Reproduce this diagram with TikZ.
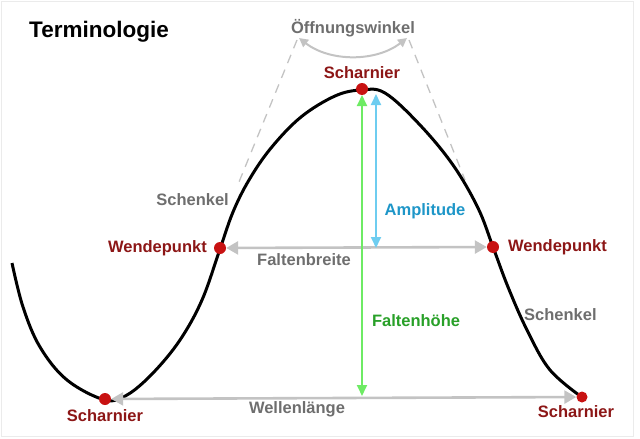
\documentclass[tikz,border=0pt]{standalone}
\usepackage{fontspec}
\setmainfont{Liberation Sans}
\usetikzlibrary{arrows.meta}
\definecolor{hingered}{RGB}{140,22,22}
\definecolor{dotred}{RGB}{200,18,18}
\definecolor{labgray}{RGB}{110,110,110}
\definecolor{arrgray}{RGB}{195,195,195}
\definecolor{lgreen}{RGB}{110,235,100}
\definecolor{dgreen}{RGB}{40,160,40}
\definecolor{lblue}{RGB}{110,205,240}
\definecolor{dblue}{RGB}{30,150,200}
\tikzset{
  curve/.style={line width=3pt, black},
  grayarr/.style={line width=2.6pt, arrgray, {Triangle[length=12pt,width=13pt]}-{Triangle[length=12pt,width=13pt]}},
  greenarr/.style={line width=1.8pt, lgreen, {Triangle[length=11pt,width=10pt]}-{Triangle[length=11pt,width=10pt]}},
  bluearr/.style={line width=1.8pt, lblue, {Triangle[length=11pt,width=10pt]}-{Triangle[length=11pt,width=10pt]}},
  dashln/.style={line width=1.3pt, arrgray, dash pattern=on 9pt off 7pt},
  hingelab/.style={font=\fontsize{16.5}{18}\selectfont\bfseries, text=hingered, inner sep=0pt},
  graylab/.style={font=\fontsize{16.5}{18}\selectfont\bfseries, text=labgray, inner sep=0pt},
  reddot/.style={circle, fill=dotred, minimum size=12pt, inner sep=0pt},
}
\begin{document}
\begin{tikzpicture}[x=1pt,y=-1pt]
\useasboundingbox (0,0) rectangle (640,439);
\draw[black!8, line width=1pt] (1.5,1.5) rectangle (633,436.5);

% key points
\coordinate (hl) at (105,399);
\coordinate (wl) at (220,248);
\coordinate (ht) at (362,89);
\coordinate (wr) at (493,247);
\coordinate (hr) at (582,397);

% dashed limb tangents
\coordinate (dl1) at (297,40);
\coordinate (dl2) at (239,182);
\coordinate (dr1) at (409,40);
\coordinate (dr2) at (465,180);
\draw[dashln] (dl1) -- (dl2);
\draw[dashln] (dr1) -- (dr2);

% opening angle arc
\coordinate (oa1) at (299,38);
\coordinate (oa2) at (407,38);
\draw[line width=2pt, arrgray, {Triangle[length=9pt,width=9pt]}-{Triangle[length=9pt,width=9pt]}]
  (oa1) .. controls (330,62) and (376,62) .. (oa2);

% fold curve
\draw[curve, line join=round] plot[smooth, tension=0.6] coordinates {
 (12,263) (23,307) (40,347) (67,380) (105,400) (127,395) (153,373)
 (180,340) (202,300) (220,249) (233,212) (249,180) (271,148) (301,117) (335,96) (361,90)
 (385,93) (420,125) (453,165) (478,208) (493,247) (508,287) (527,330) (550,370) (583,398)};

% measurement arrows
\coordinate (gt) at (362,95);
\coordinate (gb) at (362,396);
\coordinate (bt) at (376,94);
\coordinate (bb) at (376,248);

% dots
\node[reddot] (dhl) at (hl) {};
\node[reddot] (dwl) at (wl) {};
\node[reddot] (dht) at (ht) {};
\node[reddot] (dwr) at (wr) {};
\node[reddot, minimum size=11pt] (dhr) at (hr) {};

\draw[grayarr] (dhl) -- (dhr);
\draw[grayarr] (dwl) -- (dwr);
\draw[greenarr] (gt) -- (gb);
\draw[bluearr] (bt) -- (bb);

% labels
\node[font=\fontsize{22.5}{26}\selectfont\bfseries, anchor=west, inner sep=0pt] (title) at (29,32) {Terminologie};
\node[graylab] (oeff) at (353,28) {Öffnungswinkel};
\node[hingelab] (sct) at (362,73) {Scharnier};
\node[graylab, anchor=east] (schl) at (229,200) {Schenkel};
\node[hingelab, anchor=east] (wpl) at (207,248) {Wendepunkt};
\node[graylab] (fb) at (304,260) {Faltenbreite};
\node[text=dblue, font=\fontsize{16.5}{18}\selectfont\bfseries, inner sep=0pt] (amp) at (425,211) {Amplitude};
\node[hingelab, anchor=west] (wpr) at (508,247) {Wendepunkt};
\node[graylab, anchor=west] (schr) at (524,315) {Schenkel};
\node[text=dgreen, font=\fontsize{16.5}{18}\selectfont\bfseries, inner sep=0pt] (fh) at (416,321) {Faltenhöhe};
\node[hingelab] (scl) at (105,416) {Scharnier};
\node[graylab] (wl2) at (297,409) {Wellenlänge};
\node[hingelab] (scr) at (576,412) {Scharnier};
\end{tikzpicture}
\end{document}
